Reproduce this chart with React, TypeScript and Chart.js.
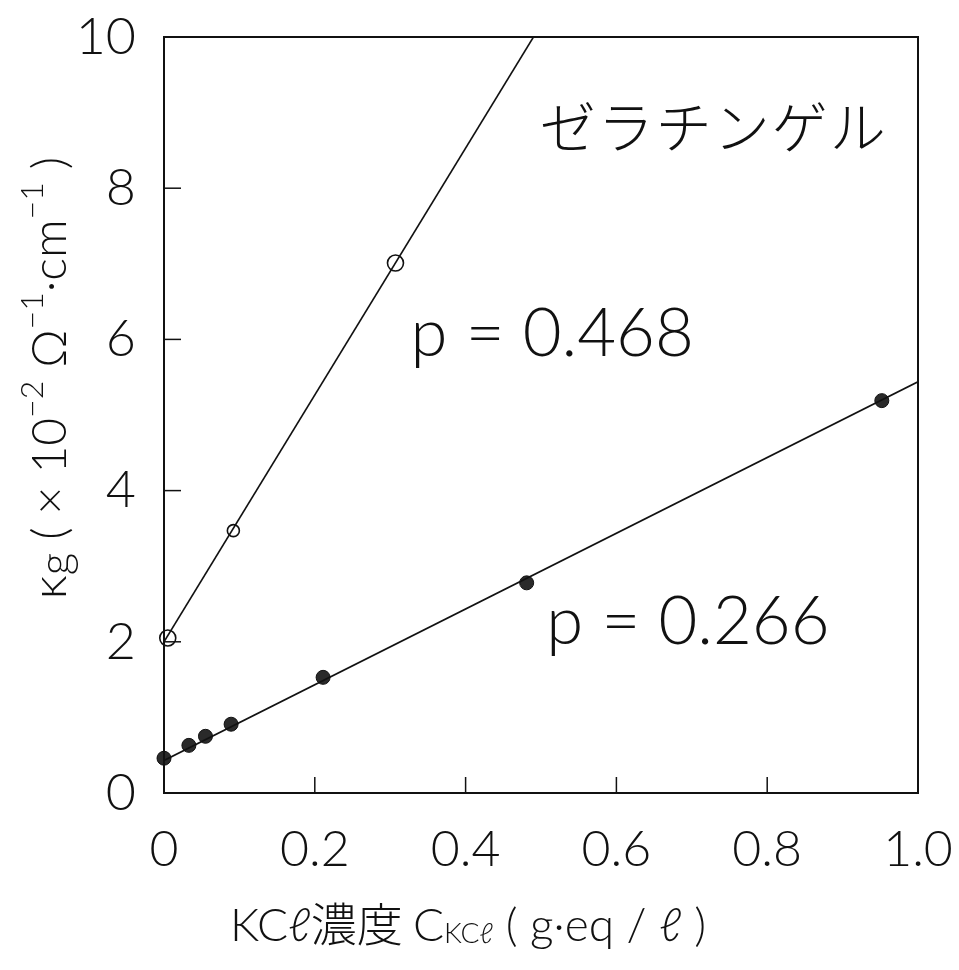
import React, { useEffect, useRef } from "react";
import { Chart, registerables } from "chart.js";

Chart.register(...registerables);

// Data
const openX = [0.005, 0.092, 0.307];
const openY = [2.05, 3.47, 7.01];
const filledX = [0.0, 0.033, 0.055, 0.089, 0.211, 0.481, 0.952];
const filledY = [0.46, 0.63, 0.75, 0.91, 1.53, 2.78, 5.19];
const fitOpenX = [0.0, 0.49];
const fitOpenY = [2.0, 10.0];
const fitFilledX = [0.0, 1.0];
const fitFilledY = [0.43, 5.44];
const xTicks = [0, 0.2, 0.4, 0.6, 0.8, 1.0];
const yTicks = [0, 2, 4, 6, 8, 10];
const xInnerTicks = [0.2, 0.4, 0.6, 0.8];
const yInnerTicks = [2, 4, 6, 8];
const labelGel = "ゼラチンゲル";
const labelOpen = "p = 0.468";
const labelFilled = "p = 0.266";

const FONT = "Lato, 'Noto Sans', 'Noto Sans CJK JP', sans-serif";
const CJK = "'Noto Sans CJK JP', sans-serif";

type Seg = { t: string; size: number; dy: number; font?: string };

function drawSegs(ctx: CanvasRenderingContext2D, segs: Seg[], cx: number, cy: number) {
  let total = 0;
  const widths: number[] = [];
  for (const s of segs) {
    ctx.font = `300 ${s.size}px ${s.font || FONT}`;
    const w = ctx.measureText(s.t).width;
    widths.push(w);
    total += w;
  }
  let x = cx - total / 2;
  ctx.textBaseline = "alphabetic";
  ctx.textAlign = "left";
  segs.forEach((s, i) => {
    ctx.font = `300 ${s.size}px ${s.font || FONT}`;
    ctx.fillText(s.t, x, cy + s.dy);
    x += widths[i];
  });
}

const decorPlugin = {
  id: "decor",
  afterDraw(chart: any) {
    const { ctx, chartArea, scales } = chart;
    const xs = scales.x;
    const ys = scales.y;
    ctx.save();
    ctx.strokeStyle = "#111";
    ctx.lineWidth = 2;
    ctx.strokeRect(chartArea.left, chartArea.top, chartArea.right - chartArea.left, chartArea.bottom - chartArea.top);
    ctx.lineWidth = 1.5;
    for (const v of xInnerTicks) {
      const px = xs.getPixelForValue(v);
      ctx.beginPath();
      ctx.moveTo(px, chartArea.bottom);
      ctx.lineTo(px, chartArea.bottom - 16);
      ctx.stroke();
    }
    for (const v of yInnerTicks) {
      const py = ys.getPixelForValue(v);
      ctx.beginPath();
      ctx.moveTo(chartArea.left, py);
      ctx.lineTo(chartArea.left + 17, py);
      ctx.stroke();
    }
    ctx.fillStyle = "#111";
    // annotations
    ctx.font = `300 56px ${CJK}`;
    ctx.textAlign = "center";
    ctx.textBaseline = "middle";
    (ctx as any).letterSpacing = "2px";
    ctx.fillText(labelGel, xs.getPixelForValue(0.729), ys.getPixelForValue(8.81));
    (ctx as any).letterSpacing = "0px";
    ctx.font = `300 67px ${FONT}`;
    ctx.textAlign = "left";
    ctx.fillText(labelOpen, xs.getPixelForValue(0.327), ys.getPixelForValue(6.06));
    ctx.fillText(labelFilled, xs.getPixelForValue(0.507), ys.getPixelForValue(2.26));

    // x title
    const xt: Seg[] = [
      { t: "KCℓ", size: 46, dy: 0 },
      { t: "濃度 ", size: 46, dy: 0, font: CJK },
      { t: "C", size: 46, dy: 0 },
      { t: "KCℓ", size: 28, dy: 2 },
      { t: " ( g·eq / ℓ )", size: 46, dy: 0 },
    ];
    drawSegs(ctx, xt, 468, 941);

    // y title rotated
    ctx.save();
    ctx.translate(66, 378);
    ctx.rotate(-Math.PI / 2);
    const yt: Seg[] = [
      { t: "κ", size: 50, dy: 0 },
      { t: "g", size: 44, dy: 4 },
      { t: " ( × 10", size: 48, dy: 0 },
      { t: "−2", size: 32, dy: -23 },
      { t: " Ω", size: 48, dy: 0 },
      { t: "−1", size: 32, dy: -23 },
      { t: "·cm", size: 48, dy: 0 },
      { t: "−1", size: 32, dy: -23 },
      { t: " )", size: 48, dy: 0 },
    ];
    drawSegs(ctx, yt, 0, 0);
    ctx.restore();
    ctx.restore();
  },
};

export default function App() {
  const ref = useRef<HTMLCanvasElement>(null);
  useEffect(() => {
    if (!ref.current) return;
    const chart = new Chart(ref.current, {
      type: "scatter",
      data: {
        datasets: [
          {
            type: "line",
            data: fitOpenX.map((x, i) => ({ x, y: fitOpenY[i] })),
            borderColor: "#111",
            borderWidth: 1.6,
            pointRadius: 0,
            showLine: true,
            fill: false,
          },
          {
            type: "line",
            data: fitFilledX.map((x, i) => ({ x, y: fitFilledY[i] })),
            borderColor: "#111",
            borderWidth: 1.8,
            pointRadius: 0,
            showLine: true,
            fill: false,
          },
          {
            data: openX.map((x, i) => ({ x, y: openY[i] })),
            pointRadius: [8, 6, 8],
            pointBackgroundColor: "#fff",
            pointBorderColor: "#111",
            pointBorderWidth: 1.6,
            clip: false,
          },
          {
            data: filledX.map((x, i) => ({ x, y: filledY[i] })),
            pointRadius: 7,
            pointBackgroundColor: "#2a2a2a",
            pointBorderColor: "#111",
            pointBorderWidth: 1,
            clip: false,
          },
        ],
      },
      options: {
        responsive: false,
        animation: false,
        layout: { padding: { top: 37, right: 41, left: 0, bottom: 0 } },
        plugins: { legend: { display: false }, tooltip: { enabled: false } },
        scales: {
          x: {
            type: "linear",
            min: 0,
            max: 1,
            afterBuildTicks: (s: any) => {
              s.ticks = xTicks.map((v) => ({ value: v }));
            },
            afterFit: (s: any) => {
              s.height = 177;
              s.paddingLeft = 0;
              s.paddingRight = 0;
            },
            grid: { display: false, drawTicks: false },
            border: { display: false },
            ticks: {
              padding: 27,
              color: "#111",
              maxRotation: 0,
              font: { family: FONT, size: 50, weight: "300" },
              callback: (v: any) => (v === 0 ? "0" : Number(v).toFixed(1)),
            },
          },
          y: {
            type: "linear",
            min: 0,
            max: 10,
            afterBuildTicks: (s: any) => {
              s.ticks = yTicks.map((v) => ({ value: v }));
            },
            afterFit: (s: any) => {
              s.width = 164;
              s.paddingTop = 0;
              s.paddingBottom = 0;
            },
            grid: { display: false, drawTicks: false },
            border: { display: false },
            ticks: {
              padding: 28,
              color: "#111",
              font: { family: FONT, size: 52, weight: "300" },
              callback: (v: any) => String(v),
            },
          },
        },
      },
      plugins: [decorPlugin],
    } as any);
    return () => chart.destroy();
  }, []);
  return (
    <div style={{ position: "fixed", left: 0, top: 0, width: 959, height: 970, background: "#fff" }}>
      <canvas ref={ref} width={959} height={970} style={{ width: 959, height: 970 }} />
    </div>
  );
}
